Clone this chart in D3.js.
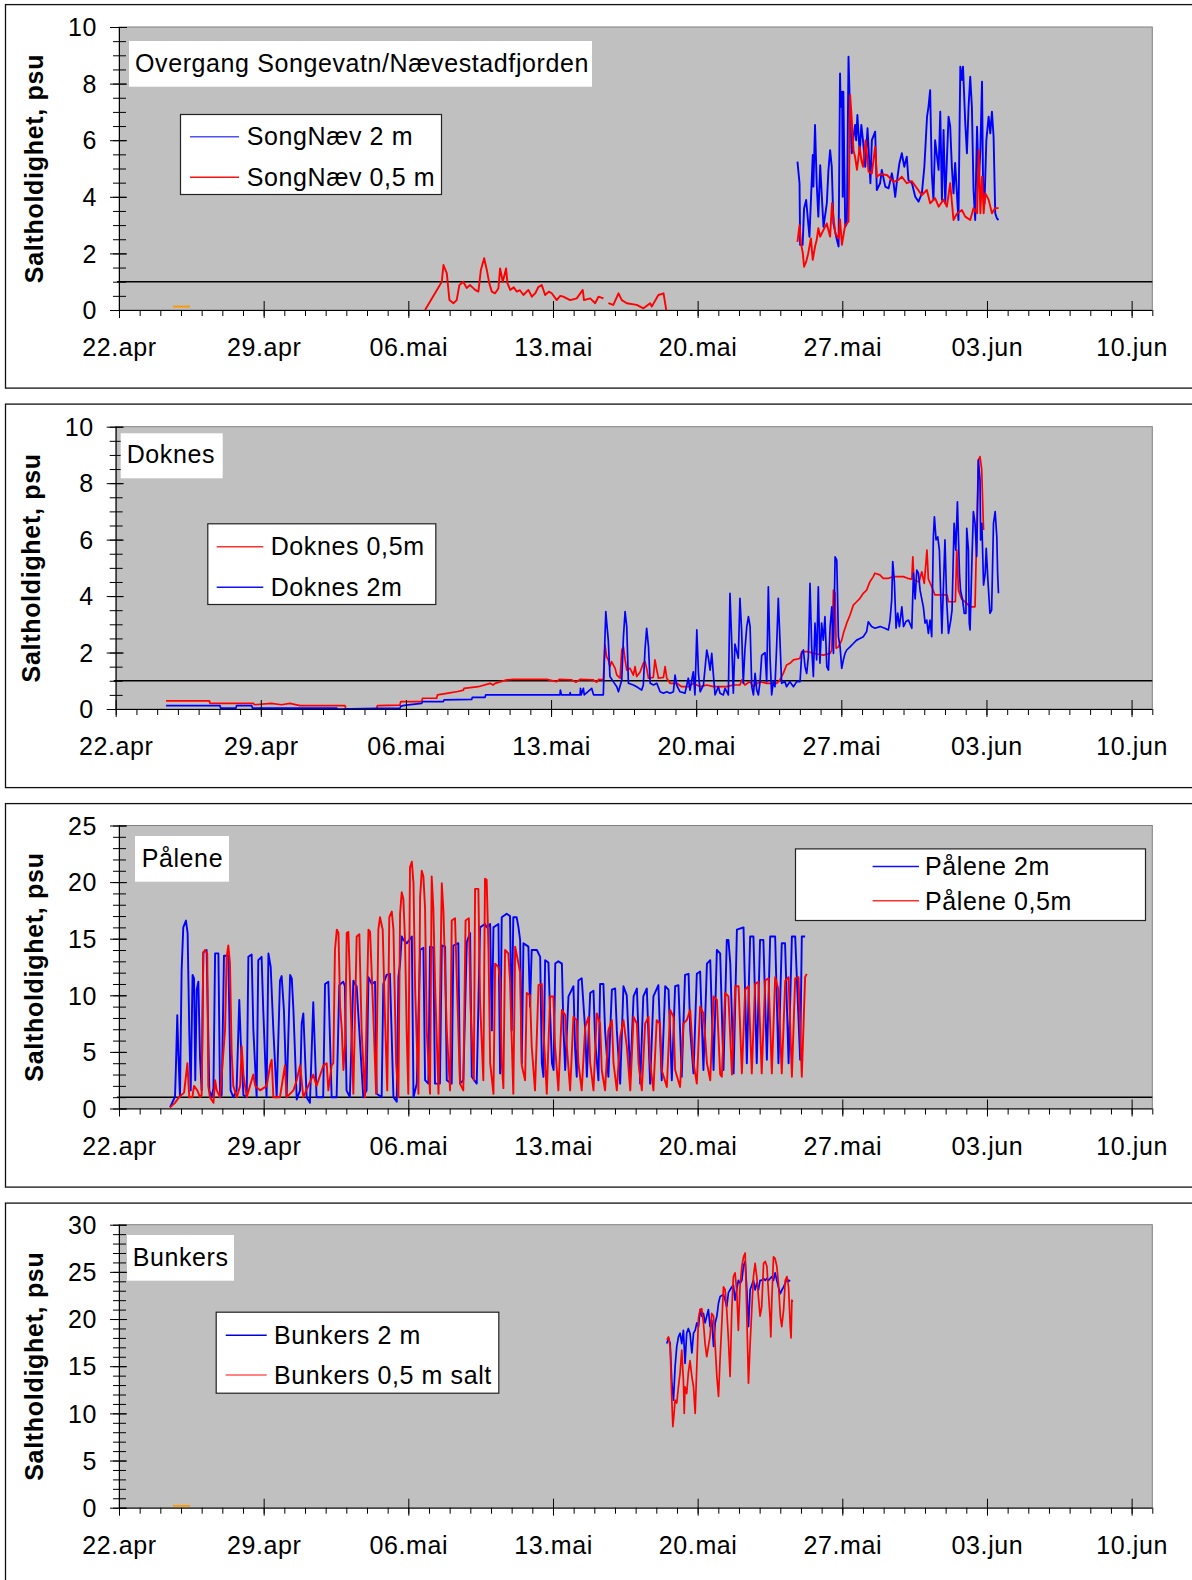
<!DOCTYPE html>
<html><head><meta charset="utf-8">
<script src="https://cdn.jsdelivr.net/npm/d3@7/dist/d3.min.js"></script>
<style>
body{margin:0;background:#fff}
svg text{font-family:"Liberation Sans",Arial,sans-serif;fill:#000}
</style>
</head><body>
<svg id="chart" width="1192" height="1580"></svg>
<script>
// ---------- data (day offset from 22.apr, salinity psu) ----------
const dateTicks = ["22.apr","29.apr","06.mai","13.mai","20.mai","27.mai","03.jun","10.jun"];
const dateTickDays = [0,7,14,21,28,35,42,49];

const panelTitles = ["Overgang Songevatn/Nævestadfjorden","Doknes","Pålene","Bunkers"];
const legendLabels = [["SongNæv 2 m","SongNæv 0,5 m"],["Doknes 0,5m","Doknes 2m"],["Pålene 2m","Pålene 0,5m"],["Bunkers 2 m","Bunkers 0,5 m salt"]];
const yMaxes = [10,10,25,30];
const yMajorSteps = [2,2,5,5];
const yMinorSteps = [0.5,0.5,1,1];
const thresholdValue = 1;

const songNaev2m = [[32.83,5.24],[32.93,4.48],[32.96,2.3],[33.08,2.3],[33.15,3.59],[33.25,3.89],[33.41,2.59],[33.57,5.48],[33.6,4.36],[33.68,6.54],[33.76,4.48],[33.84,3.3],[33.93,5.12],[34.01,4.0],[34.09,2.94],[34.25,3.77],[34.33,4.95],[34.41,5.65],[34.49,5.06],[34.57,3.06],[34.74,2.47],[34.82,2.24],[34.89,8.36],[34.92,7.18],[34.99,7.71],[35.02,4.0],[35.05,7.71],[35.14,2.94],[35.22,3.06],[35.3,8.95],[35.38,6.83],[35.46,5.54],[35.54,6.12],[35.62,6.54],[35.67,6.0],[35.73,6.89],[35.84,5.54],[35.92,6.54],[36.0,6.0],[36.11,5.06],[36.22,6.42],[36.36,4.48],[36.43,6.0],[36.59,6.3],[36.67,4.24],[36.83,4.48],[36.91,4.95],[37.08,4.36],[37.24,4.3],[37.4,4.83],[37.48,4.48],[37.56,4.0],[37.64,4.53],[37.76,5.18],[37.88,5.54],[38.0,5.06],[38.12,5.42],[38.2,4.59],[38.37,4.48],[38.53,4.0],[38.69,3.83],[38.85,4.12],[38.97,5.06],[39.1,6.83],[39.17,7.18],[39.25,7.77],[39.33,4.83],[39.41,3.89],[39.49,6.0],[39.66,4.95],[39.74,7.01],[39.82,3.89],[39.9,6.36],[39.98,3.77],[40.14,6.83],[40.22,6.5],[40.3,5.06],[40.38,4.12],[40.46,5.2],[40.62,3.18],[40.71,8.6],[40.79,8.13],[40.84,8.6],[40.95,6.6],[41.03,5.54],[41.11,7.18],[41.19,8.24],[41.27,7.18],[41.35,4.24],[41.43,3.18],[41.52,6.48],[41.6,4.48],[41.68,5.65],[41.76,8.07],[41.81,4.48],[41.88,3.77],[41.97,6.0],[42.08,6.83],[42.16,6.24],[42.24,7.01],[42.32,6.12],[42.4,3.42],[42.48,3.24],[42.56,3.18]];
const songNaev05m = [[14.81,0],[15.62,1.0],[15.7,1.59],[15.86,1.3],[15.99,0.35],[16.18,0.24],[16.34,0.35],[16.47,0.88],[16.66,1.0],[16.82,0.78],[16.99,0.88],[17.23,0.71],[17.39,0.65],[17.51,1.41],[17.67,1.83],[17.8,1.41],[17.92,0.94],[18.04,0.65],[18.2,0.59],[18.36,0.77],[18.44,1.47],[18.57,1.0],[18.73,1.47],[18.8,0.94],[18.93,0.71],[19.1,0.8],[19.25,0.65],[19.4,0.7],[19.57,0.53],[19.81,0.71],[19.98,0.47],[20.15,0.6],[20.3,0.82],[20.46,0.88],[20.62,0.53],[20.8,0.65],[20.94,0.59],[21.18,0.35],[21.35,0.5],[21.5,0.47],[21.83,0.35],[22.15,0.41],[22.44,0.71],[22.5,0.35],[22.8,0.41],[23.04,0.24],[23.2,0.47],[23.44,0.41],null,[23.68,0.24],[23.92,0.18],[24.17,0.59],[24.33,0.35],[24.57,0.24],[25.05,0.18],[25.38,0.06],[25.7,0.24],[25.78,0.12],[26.1,0.53],[26.35,0.59],[26.48,0],null,
 [32.83,2.41],[32.93,3.0],[33.0,2.36],[33.09,2.0],[33.15,1.53],[33.25,1.7],[33.35,2.0],[33.48,2.53],[33.57,1.77],[33.68,2.24],[33.76,2.47],[33.84,2.89],[33.93,2.59],[34.09,2.83],[34.25,3.06],[34.41,2.59],[34.5,3.77],[34.66,2.71],[34.82,2.53],[34.89,3.2],[34.98,2.3],[35.14,3.0],[35.3,3.12],[35.38,7.6],[35.46,6.71],[35.54,5.65],[35.62,5.4],[35.71,4.95],[35.84,5.77],[35.92,5.3],[36.0,5.06],[36.13,6.0],[36.27,4.89],[36.43,4.83],[36.59,5.77],[36.67,4.71],[36.83,4.8],[37.16,4.77],[37.48,4.53],[37.72,4.6],[37.88,4.71],[38.12,4.48],[38.37,4.55],[38.61,4.3],[38.85,4.06],[39.09,4.24],[39.25,3.77],[39.49,3.95],[39.66,3.65],[39.9,3.9],[40.06,3.65],[40.22,4.48],[40.38,3.18],[40.54,3.4],[40.79,3.53],[40.95,3.3],[41.19,3.18],[41.35,3.6],[41.52,3.42],[41.6,5.65],[41.68,3.42],[41.76,4.71],[41.84,3.42],[41.92,4.12],[42.08,3.9],[42.24,3.42],[42.4,3.6],[42.56,3.6]];
const songNaevOther = [[2.61,0.12],[3.44,0.12]];

const doknes05m = [[2.43,0.29],[4.52,0.29],[4.55,0.2],[6.64,0.2],[6.7,0.15],[7.5,0.2],[8.0,0.15],[8.4,0.2],[8.89,0.12],[11.06,0.12],[11.1,0],[12.59,0],[12.62,0.12],[13.71,0.14],[13.75,0.26],[14.76,0.26],[14.8,0.38],[15.48,0.38],[15.52,0.5],[16.04,0.56],[16.5,0.62],[16.77,0.67],[16.8,0.73],[17.49,0.79],[18.06,0.91],[18.2,0.85],[18.3,0.91],[18.86,1.03],[19.18,1.05],[20.79,1.05],[21.27,0.97],[21.4,1.05],[22.0,1.03],[22.2,0.95],[22.4,1.05],[23.04,1.03],[23.2,0.95],[23.3,1.05],[23.52,1.03],[23.6,2.27],[23.68,1.85],[23.76,1.74],[23.84,1.5],[23.92,1.68],[24.09,1.44],[24.17,1.2],[24.33,1.09],[24.41,2.09],[24.49,2.2],[24.57,1.74],[24.65,1.38],[24.81,1.44],[24.97,1.2],[25.05,1.5],[25.13,1.15],[25.29,1.3],[25.45,1.62],[25.53,1.68],[25.61,1.44],[25.7,1.09],[25.93,1.12],[26.01,1.74],[26.1,1.38],[26.18,1.09],[26.42,1.12],[26.5,1.5],[26.58,1.09],[26.74,0.91],[27.06,0.91],[27.3,0.79],[27.62,0.79],[27.86,0.91],[28.19,0.79],[28.51,0.85],[28.83,0.79],[29.47,0.79],[29.79,0.85],[30.11,0.85],[30.2,1.03],[30.35,0.85],[30.59,0.97],[30.75,0.79],[31.07,0.97],[31.4,0.91],[31.88,0.91],[32.04,1.03],[32.2,1.26],[32.36,1.56],[32.52,1.62],[32.69,1.74],[33.0,1.79],[33.09,2.03],[33.41,2.03],[33.65,1.97],[34.13,1.91],[34.46,1.97],[34.54,2.09],[34.62,4.21],[34.7,4.1],[34.75,2.15],[34.86,2.2],[35.02,2.44],[35.1,2.68],[35.26,3.04],[35.42,3.33],[35.58,3.68],[35.74,3.8],[35.9,3.92],[36.06,4.1],[36.22,4.21],[36.38,4.51],[36.54,4.69],[36.62,4.81],[36.86,4.75],[37.02,4.63],[37.27,4.63],[37.51,4.69],[37.99,4.69],[38.2,4.63],[38.4,4.6],[38.45,5.39],[38.5,4.57],[38.75,4.5],[38.88,4.86],[39.0,4.45],[39.13,5.63],[39.2,4.6],[39.36,4.33],[39.52,4.04],[40.1,4.04],[40.17,3.8],[40.5,3.8],[40.57,5.63],[40.65,4.21],[40.8,3.9],[41.05,3.74],[41.21,3.62],[41.45,3.62],[41.53,6.22],[41.61,8.82],[41.69,8.94],[41.77,8.5],[41.86,6.34]];
const doknes2m = [[2.43,0.12],[5.03,0.12],[5.06,0.03],[5.8,0.03],[5.83,0.12],[6.56,0.12],[6.6,0.03],[10.66,0.03],[10.7,0],[12.59,0.02],[13.71,0.02],[13.75,0.1],[14.0,0.14],[14.76,0.2],[14.8,0.26],[15.8,0.26],[15.84,0.32],[17.17,0.34],[17.2,0.41],[17.81,0.41],[17.85,0.5],[21.43,0.5],[21.45,0.67],[21.5,0.5],[21.9,0.5],[21.92,0.58],[21.95,0.5],[22.4,0.5],[22.42,0.73],[22.45,0.5],[22.56,0.73],[22.6,0.5],[22.96,0.73],[23.05,0.5],[23.52,0.5],[23.6,2.56],[23.64,3.45],[23.68,3.09],[23.76,2.44],[23.84,1.15],[24.0,0.97],[24.17,0.79],[24.25,0.61],[24.41,1.03],[24.49,2.56],[24.57,3.45],[24.65,2.92],[24.73,0.91],[24.97,0.85],[25.13,0.79],[25.37,0.67],[25.45,0.85],[25.53,2.09],[25.61,2.86],[25.7,2.2],[25.78,0.91],[25.94,0.85],[26.1,0.91],[26.26,0.61],[26.42,0.56],[26.58,0.61],[26.74,0.56],[26.9,0.61],[26.98,1.2],[27.06,0.85],[27.22,0.61],[27.46,0.56],[27.62,1.09],[27.7,0.67],[27.86,1.32],[27.94,0.5],[28.03,2.8],[28.11,1.26],[28.19,0.61],[28.35,0.85],[28.51,2.09],[28.59,1.79],[28.67,1.38],[28.75,1.97],[28.83,1.2],[28.91,0.5],[29.07,0.79],[29.15,0.56],[29.31,0.5],[29.39,0.73],[29.55,0.5],[29.63,4.1],[29.71,2.44],[29.79,0.56],[29.87,2.3],[30.03,1.8],[30.11,3.92],[30.19,2.8],[30.27,0.91],[30.35,2.09],[30.44,2.92],[30.52,3.27],[30.6,2.92],[30.68,0.79],[30.76,0.5],[30.84,1.26],[30.92,0.67],[31.0,0.5],[31.08,0.97],[31.16,1.9],[31.32,2.0],[31.4,0.97],[31.48,4.33],[31.56,1.85],[31.64,0.5],[31.72,0.97],[31.8,0.79],[31.88,2.21],[31.96,3.92],[32.04,2.44],[32.12,0.91],[32.28,0.97],[32.36,0.79],[32.52,0.97],[32.69,0.79],[32.85,0.97],[33.01,0.97],[33.09,1.97],[33.17,2.09],[33.25,1.5],[33.33,1.26],[33.41,1.85],[33.49,4.45],[33.57,2.2],[33.65,1.15],[33.73,3.04],[33.81,1.74],[33.89,4.33],[33.97,1.62],[34.05,3.04],[34.13,2.44],[34.21,3.27],[34.3,1.5],[34.38,1.38],[34.46,2.92],[34.54,3.62],[34.62,1.97],[34.7,5.39],[34.78,5.27],[34.86,2.56],[34.94,2.2],[35.02,1.44],[35.1,1.74],[35.18,1.97],[35.26,2.09],[35.42,2.2],[35.58,2.32],[35.74,2.44],[35.9,2.5],[36.06,2.56],[36.22,2.74],[36.3,3.09],[36.46,2.92],[36.62,2.86],[36.87,2.92],[37.1,2.86],[37.27,2.8],[37.35,3.15],[37.43,3.86],[37.48,5.22],[37.56,4.5],[37.64,2.86],[37.72,3.4],[37.8,2.92],[37.92,3.62],[38.0,2.92],[38.12,3.1],[38.24,3.15],[38.4,2.86],[38.48,4.81],[38.56,3.9],[38.64,4.92],[38.72,4.81],[38.8,4.2],[38.88,3.9],[38.96,3.6],[39.04,3.04],[39.12,3.15],[39.2,2.68],[39.28,3.15],[39.36,2.56],[39.44,6.1],[39.49,6.81],[39.57,5.99],[39.65,6.1],[39.73,5.63],[39.85,2.68],[40.0,5.99],[40.08,3.86],[40.17,2.68],[40.28,3.15],[40.34,3.5],[40.44,6.58],[40.52,5.63],[40.6,7.34],[40.7,4.8],[40.75,4.2],[40.85,3.86],[40.93,3.39],[41.01,3.39],[41.05,6.4],[41.13,5.63],[41.17,3.04],[41.21,2.8],[41.29,5.0],[41.37,6.99],[41.45,6.58],[41.53,5.4],[41.61,8.82],[41.69,8.11],[41.72,5.99],[41.78,6.58],[41.86,4.39],[41.94,4.8],[41.99,5.69],[42.07,4.57],[42.17,3.39],[42.25,3.5],[42.34,6.58],[42.42,6.99],[42.5,6.1],[42.54,4.8],[42.58,4.1]];

const palene2m = [[2.47,0.1],[2.71,1.04],[2.75,3.4],[2.82,8.25],[2.87,5.0],[2.95,1.0],[3.03,12.2],[3.11,16.0],[3.24,16.6],[3.32,15.5],[3.4,6.9],[3.47,1.6],[3.56,11.8],[3.63,11.5],[3.69,2.5],[3.76,10.5],[3.84,11.2],[3.92,4.5],[4.0,1.6],[4.08,13.8],[4.24,14.0],[4.37,1.6],[4.48,1.0],[4.57,1.8],[4.65,13.7],[4.81,13.7],[4.89,1.0],[4.97,1.2],[5.08,13.5],[5.29,13.5],[5.4,1.6],[5.53,1.0],[5.69,1.6],[5.82,9.6],[5.89,6.0],[6.02,1.2],[6.18,1.0],[6.26,13.4],[6.42,13.6],[6.5,7.0],[6.66,1.0],[6.74,13.1],[6.9,13.4],[6.98,8.7],[7.14,1.0],[7.23,13.7],[7.34,12.5],[7.47,6.9],[7.63,1.0],[7.79,11.3],[7.87,11.7],[7.98,8.7],[8.11,1.0],[8.28,11.8],[8.36,11.5],[8.44,8.7],[8.6,0.8],[8.76,1.6],[8.84,7.5],[8.92,8.4],[9.08,1.0],[9.24,0.5],[9.4,9.4],[9.56,1.0],[9.88,1.0],[9.97,11.0],[10.13,11.2],[10.29,1.0],[10.53,1.0],[10.66,10.9],[10.85,11.2],[10.93,10.8],[11.01,1.6],[11.17,1.0],[11.34,11.3],[11.42,11.0],[11.5,10.8],[11.82,1.0],[11.98,1.6],[12.07,11.6],[12.23,11.0],[12.39,11.2],[12.47,1.3],[12.71,1.0],[12.79,11.0],[12.95,11.8],[13.11,11.9],[13.28,1.0],[13.44,0.6],[13.52,11.6],[13.6,12.8],[13.68,15.2],[13.76,14.9],[13.93,14.6],[14.17,15.2],[14.25,1.0],[14.41,2.2],[14.57,14.0],[14.73,14.2],[14.81,2.5],[14.97,2.2],[15.05,14.3],[15.21,14.2],[15.29,2.2],[15.53,2.2],[15.62,14.4],[15.78,14.3],[15.86,2.5],[16.1,2.2],[16.18,14.4],[16.42,14.6],[16.5,2.2],[16.66,2.5],[16.83,14.7],[16.99,15.5],[17.07,2.8],[17.31,2.2],[17.47,16.0],[17.71,16.3],[17.79,16.0],[17.96,16.3],[18.04,6.9],[18.12,16.0],[18.2,16.1],[18.36,16.3],[18.44,3.1],[18.52,16.9],[18.76,17.2],[18.92,17.0],[19.0,6.9],[19.08,16.9],[19.24,16.9],[19.33,16.0],[19.41,14.9],[19.49,4.0],[19.57,14.6],[19.81,14.3],[19.89,9.0],[19.97,14.0],[20.22,14.0],[20.38,13.4],[20.46,4.0],[20.54,2.8],[20.62,13.1],[20.78,12.9],[20.86,8.5],[20.95,4.0],[21.03,3.4],[21.11,12.8],[21.26,13.0],[21.43,12.8],[21.51,6.9],[21.59,3.4],[21.75,9.9],[21.91,10.5],[21.99,10.8],[22.07,5.3],[22.15,2.8],[22.23,11.3],[22.39,11.5],[22.56,6.9],[22.64,2.8],[22.8,10.2],[22.96,10.4],[23.04,6.0],[23.2,2.5],[23.28,11.0],[23.44,11.0],[23.52,6.9],[23.68,2.8],[23.85,10.5],[24.01,10.6],[24.09,6.9],[24.25,2.2],[24.41,10.8],[24.57,10.0],[24.74,2.8],[24.9,9.9],[25.06,10.6],[25.22,2.2],[25.37,9.9],[25.54,10.6],[25.7,2.2],[25.86,9.9],[26.1,10.9],[26.26,2.5],[26.43,10.8],[26.59,10.5],[26.75,2.5],[26.91,10.8],[27.07,10.9],[27.23,2.8],[27.39,11.8],[27.56,11.9],[27.64,6.9],[27.8,3.1],[27.96,11.9],[28.12,12.1],[28.28,3.4],[28.45,12.8],[28.61,13.1],[28.77,3.4],[28.93,14.0],[29.09,13.7],[29.25,3.4],[29.41,14.9],[29.49,14.9],[29.58,12.8],[29.74,3.1],[29.9,15.8],[30.22,16.0],[30.38,4.0],[30.54,15.2],[30.7,15.2],[30.86,4.0],[31.02,14.9],[31.18,14.9],[31.35,4.3],[31.51,15.2],[31.75,15.2],[31.91,4.0],[32.07,14.6],[32.23,14.6],[32.4,4.0],[32.56,15.2],[32.72,15.2],[32.96,4.3],[33.04,15.2],[33.2,15.2]];
const palene05m = [[2.47,0.1],[2.71,0.5],[2.9,1.0],[3.15,1.4],[3.31,4.0],[3.4,1.0],[3.55,1.0],[3.63,2.0],[3.79,1.6],[3.92,1.0],[4.0,1.2],[4.08,13.7],[4.16,14.0],[4.27,13.7],[4.32,2.0],[4.4,1.0],[4.57,0.5],[4.65,2.5],[4.73,1.6],[4.89,1.0],[5.13,6.9],[5.21,13.4],[5.29,14.4],[5.37,12.8],[5.45,5.0],[5.53,2.0],[5.7,1.0],[5.86,2.0],[5.94,5.5],[6.02,3.0],[6.18,1.0],[6.34,2.0],[6.5,3.0],[6.59,2.0],[6.83,1.6],[7.15,2.0],[7.31,3.8],[7.39,4.3],[7.47,1.0],[7.79,1.0],[8.03,3.8],[8.11,1.0],[8.44,1.6],[8.6,2.5],[8.76,3.8],[8.92,1.0],[9.4,3.0],[9.56,2.0],[9.89,3.8],[10.05,4.0],[10.13,1.6],[10.29,3.8],[10.37,4.0],[10.45,14.0],[10.54,15.8],[10.62,15.5],[10.7,9.0],[10.78,7.0],[10.86,3.4],[10.94,5.7],[11.02,15.5],[11.1,15.6],[11.18,11.0],[11.34,1.3],[11.5,15.2],[11.63,15.4],[11.74,6.9],[11.9,1.0],[12.07,15.8],[12.15,15.6],[12.31,8.1],[12.44,1.3],[12.55,15.8],[12.63,16.9],[12.76,15.8],[12.87,8.1],[12.98,1.6],[13.08,16.9],[13.2,17.4],[13.28,15.8],[13.41,4.0],[13.52,1.0],[13.6,17.2],[13.68,19.1],[13.76,18.5],[13.84,14.9],[13.92,6.9],[14.0,1.3],[14.08,21.3],[14.17,21.8],[14.25,19.9],[14.33,10.5],[14.49,1.3],[14.57,18.7],[14.65,21.0],[14.73,20.5],[14.81,17.7],[14.89,6.9],[15.05,1.3],[15.13,20.5],[15.21,17.7],[15.3,10.5],[15.46,1.3],[15.62,19.9],[15.7,17.4],[15.86,6.9],[16.02,1.6],[16.1,16.6],[16.26,16.8],[16.34,11.8],[16.5,2.2],[16.66,1.6],[16.77,16.6],[16.93,16.8],[17.01,9.0],[17.17,2.5],[17.23,19.4],[17.39,19.4],[17.47,9.5],[17.63,2.5],[17.71,20.3],[17.79,20.2],[17.88,14.0],[17.96,4.0],[18.12,1.3],[18.2,12.8],[18.36,12.5],[18.44,11.3],[18.52,4.0],[18.6,1.8],[18.68,14.0],[18.84,13.7],[18.92,11.3],[19.08,1.3],[19.17,14.3],[19.33,12.8],[19.41,12.0],[19.49,3.8],[19.65,2.5],[19.73,10.2],[19.89,10.0],[19.97,5.5],[20.13,1.6],[20.3,10.9],[20.46,11.0],[20.54,6.9],[20.7,1.3],[20.86,9.9],[21.02,9.9],[21.1,5.5],[21.26,1.6],[21.43,8.7],[21.59,8.25],[21.67,5.5],[21.83,1.6],[21.99,8.1],[22.15,7.8],[22.23,4.0],[22.39,1.6],[22.56,7.2],[22.72,8.1],[22.8,4.0],[22.96,1.6],[23.12,8.4],[23.28,7.5],[23.36,3.4],[23.52,1.6],[23.68,6.9],[23.85,7.8],[23.93,4.0],[24.09,1.6],[24.25,6.3],[24.41,7.8],[24.57,5.5],[24.74,1.6],[24.9,8.1],[25.06,7.5],[25.14,4.0],[25.3,1.6],[25.46,7.5],[25.62,8.1],[25.7,4.0],[25.86,1.6],[26.02,7.8],[26.18,7.5],[26.26,3.4],[26.51,1.9],[26.67,8.7],[26.83,8.1],[26.91,3.4],[27.15,1.9],[27.31,7.5],[27.47,7.8],[27.64,8.7],[27.8,4.0],[27.96,2.2],[28.12,9.0],[28.28,8.4],[28.45,4.0],[28.61,2.5],[28.77,9.9],[28.93,9.6],[29.09,3.0],[29.17,2.8],[29.33,10.2],[29.49,9.9],[29.66,3.0],[29.82,10.8],[29.98,10.8],[30.14,3.1],[30.3,10.5],[30.46,10.8],[30.62,3.1],[30.78,11.0],[30.94,11.2],[31.1,3.1],[31.27,11.3],[31.43,11.5],[31.59,3.1],[31.75,11.6],[31.91,10.5],[32.07,3.1],[32.24,11.3],[32.4,11.6],[32.56,2.8],[32.72,11.5],[32.88,11.6],[33.04,2.8],[33.2,11.6],[33.28,11.9]];

const bunkers2m = [[26.51,17.4],[26.59,18.0],[26.67,17.4],[26.75,13.2],[26.83,11.4],[26.91,15.0],[26.99,17.1],[27.07,18.1],[27.15,18.5],[27.23,17.4],[27.31,18.8],[27.39,15.3],[27.47,18.5],[27.55,19.0],[27.63,18.5],[27.72,16.4],[27.8,18.5],[27.88,18.8],[27.96,19.6],[28.04,19.2],[28.12,21.0],[28.2,20.3],[28.28,20.6],[28.36,19.6],[28.44,20.3],[28.52,21.0],[28.6,19.2],[28.68,19.9],[28.77,17.1],[28.85,19.6],[28.93,20.3],[29.01,21.7],[29.09,22.4],[29.25,22.6],[29.33,22.0],[29.41,21.3],[29.49,22.8],[29.57,23.1],[29.65,23.4],[29.73,23.6],[29.81,22.0],[29.89,23.1],[29.97,24.1],[30.05,23.8],[30.14,24.1],[30.22,25.7],[30.3,26.1],[30.38,23.1],[30.46,19.2],[30.54,23.1],[30.62,23.6],[30.7,24.1],[30.78,23.1],[30.86,23.8],[30.94,23.1],[31.02,24.1],[31.1,24.1],[31.19,24.3],[31.27,24.1],[31.35,24.3],[31.43,24.1],[31.51,24.3],[31.59,24.5],[31.67,24.1],[31.75,24.9],[31.83,24.1],[31.91,23.4],[32.0,22.7],[32.08,23.1],[32.16,23.4],[32.24,23.8],[32.32,24.3],[32.4,24.0],[32.48,24.1]];
const bunkers05m = [[26.51,17.8],[26.59,18.1],[26.67,17.0],[26.75,11.4],[26.8,8.6],[26.86,10.0],[26.91,11.4],[26.99,11.1],[27.07,12.8],[27.15,14.3],[27.23,16.7],[27.31,13.5],[27.35,10.0],[27.39,12.8],[27.47,12.1],[27.55,14.3],[27.63,15.6],[27.72,13.9],[27.8,12.8],[27.88,10.0],[27.96,15.0],[28.04,20.1],[28.12,21.0],[28.2,21.1],[28.28,19.6],[28.36,17.4],[28.44,16.0],[28.52,17.1],[28.6,18.2],[28.68,20.6],[28.77,20.3],[28.85,17.1],[28.93,13.9],[29.01,11.8],[29.09,16.0],[29.17,19.6],[29.25,23.4],[29.33,23.1],[29.41,20.9],[29.49,17.8],[29.57,13.9],[29.65,20.9],[29.73,24.5],[29.81,24.9],[29.89,23.1],[29.97,18.8],[30.05,23.4],[30.14,25.6],[30.22,26.6],[30.3,27.0],[30.38,20.3],[30.46,13.2],[30.54,17.4],[30.62,21.0],[30.7,24.5],[30.78,25.9],[30.86,24.5],[30.94,22.4],[31.02,20.3],[31.1,21.3],[31.19,25.9],[31.27,26.1],[31.35,25.6],[31.43,22.7],[31.51,19.9],[31.54,18.1],[31.59,22.0],[31.67,26.6],[31.75,26.4],[31.83,25.6],[31.91,23.8],[32.0,20.3],[32.07,19.2],[32.16,21.0],[32.24,24.1],[32.32,24.5],[32.4,23.4],[32.48,19.2],[32.52,18.0],[32.56,22.0],[32.6,21.8]];
const bunkersOther = [[2.61,0.2],[3.44,0.2]];

// ---------- layout ----------
const BLUE = "#0000ff", RED = "#ff0000", ORANGE = "#ff9900";
const panels = [
  {top:4.6, left:119, plotTop:27, plotBottom:310, threshold:true, lw:1.9,
   titleBox:[129,41,463,45.7], titleX:135, titleY:71.7,
   legendBox:[180,114,261,80], legendLineX:[190,239], legendTextX:246.7, legendY:[136.7,177.3],
   legendColors:["#5050ff","#ff1010"],
   series:[{data:songNaevOther,color:ORANGE},{data:songNaev2m,color:BLUE},{data:songNaev05m,color:RED}]},
  {top:404.1, left:115.7, plotTop:426.7, plotBottom:709, threshold:true, lw:1.7,
   titleBox:[120.7,433.3,102,45], titleX:126.7, titleY:463.3,
   legendBox:[207.3,523.3,228,80.7], legendLineX:[216.7,263.3], legendTextX:270.7, legendY:[546.7,587.3],
   legendColors:["#ff3030","#1010ff"],
   series:[{data:doknes05m,color:RED},{data:doknes2m,color:BLUE}]},
  {top:803.6, left:119, plotTop:825.5, plotBottom:1108.5, threshold:true, lw:1.9,
   titleBox:[135,836,94,45.7], titleX:141.7, titleY:866.7,
   legendBox:[795,848.4,350,71.6], legendLineX:[872.6,919], legendTextX:925, legendY:[866.5,900.8],
   legendColors:["#1010ff","#ff3030"],
   series:[{data:palene2m,color:BLUE},{data:palene05m,color:RED}]},
  {top:1203.1, left:119, plotTop:1224.7, plotBottom:1507.7, threshold:false, lw:1.7,
   titleBox:[127,1235,107,45.7], titleX:132.7, titleY:1266,
   legendBox:[215.7,1311.7,282.6,81], legendLineX:[225.7,266.7], legendTextX:274, legendY:[1335.3,1375],
   legendColors:["#0000dd","#ff5a5a"],
   series:[{data:bunkersOther,color:ORANGE},{data:bunkers2m,color:BLUE},{data:bunkers05m,color:RED}]}
];
const PLOT_RIGHT = 1152.3;
const FONT = 25;

const svg = d3.select("#chart");

panels.forEach((p, i) => {
  const g = svg.append("g");
  // outer frame
  g.append("rect").attr("x",5.5).attr("y",p.top).attr("width",1220).attr("height",383.5)
    .attr("fill","#fff").attr("stroke","#111").attr("stroke-width",1.3);

  const x = d3.scaleLinear().domain([0,50]).range([p.left, PLOT_RIGHT]);
  const y = d3.scaleLinear().domain([0,yMaxes[i]]).range([p.plotBottom, p.plotTop]);

  // plot area
  g.append("rect").attr("x",p.left).attr("y",p.plotTop)
    .attr("width",PLOT_RIGHT-p.left).attr("height",p.plotBottom-p.plotTop)
    .attr("fill","#c0c0c0").attr("stroke","#808080").attr("stroke-width",1);

  // threshold
  if (p.threshold) {
    g.append("line").attr("x1",p.left-2).attr("x2",PLOT_RIGHT)
      .attr("y1",y(thresholdValue)).attr("y2",y(thresholdValue))
      .attr("stroke","#000").attr("stroke-width",1.6);
  }

  // series
  const line = d3.line().defined(d => d !== null).x(d => x(d[0])).y(d => y(d[1]));
  const dg = g.append("g");
  p.series.forEach(s => {
    dg.append("path").attr("d", line(s.data)).attr("fill","none")
      .attr("stroke", s.color).attr("stroke-width",p.lw).attr("stroke-linejoin","round");
  });

  // y axis: minor ticks
  const yMinor = d3.range(0, yMaxes[i] + 1e-9, yMinorSteps[i]);
  const ya1 = g.append("g").attr("transform",`translate(${p.left},0)`)
    .call(d3.axisLeft(y).tickValues(yMinor).tickFormat("").tickSizeOuter(0).tickSize(6));
  ya1.selectAll(".tick line").attr("x1",-6).attr("x2",7).attr("stroke","#000");
  ya1.select(".domain").remove();
  // y axis: major ticks & labels
  const yMajor = d3.range(0, yMaxes[i] + 1e-9, yMajorSteps[i]);
  const ya2 = g.append("g").attr("transform",`translate(${p.left},0)`)
    .call(d3.axisLeft(y).tickValues(yMajor).tickFormat(d3.format("d")).tickSizeOuter(0).tickSize(9).tickPadding(13));
  ya2.selectAll(".tick line").attr("x1",-9).attr("x2",8).attr("stroke","#000");
  ya2.select(".domain").attr("stroke","#000").attr("d",`M0.5,${p.plotBottom}V${p.plotTop}`);
  ya2.selectAll(".tick text").attr("font-size",FONT).attr("font-family","Liberation Sans, Arial, sans-serif")
    .attr("letter-spacing","0.6px").attr("dy","0.35em").attr("fill","#000");
  ya2.attr("font-size",null).attr("font-family",null);

  // x axis: minor ticks (daily)
  const xa1 = g.append("g").attr("transform",`translate(0,${p.plotBottom})`)
    .call(d3.axisBottom(x).tickValues(d3.range(0,51,1)).tickFormat("").tickSizeOuter(0).tickSize(6));
  xa1.selectAll(".tick line").attr("stroke","#000");
  xa1.select(".domain").remove();
  // x axis: major ticks with labels
  const xa2 = g.append("g").attr("transform",`translate(0,${p.plotBottom})`)
    .call(d3.axisBottom(x).tickValues(dateTickDays).tickFormat((d,k) => dateTicks[k])
      .tickSizeOuter(0).tickSize(8).tickPadding(20.5));
  xa2.selectAll(".tick line").attr("y1",-9).attr("y2",8).attr("stroke","#000");
  xa2.select(".domain").attr("stroke","#000").attr("d",`M${p.left},0.5H${PLOT_RIGHT}`);
  xa2.selectAll(".tick text").attr("font-size",FONT).attr("font-family","Liberation Sans, Arial, sans-serif")
    .attr("letter-spacing","0.6px").attr("fill","#000");
  xa2.attr("font-size",null).attr("font-family",null);

  // y title
  g.append("text").attr("transform",`translate(${p.left-76},${(p.plotTop+p.plotBottom)/2}) rotate(-90)`)
    .attr("text-anchor","middle").attr("font-weight","bold").attr("font-size",FONT)
    .attr("letter-spacing","0.7px").text("Saltholdighet, psu");

  // title box
  g.append("rect").attr("x",p.titleBox[0]).attr("y",p.titleBox[1]).attr("width",p.titleBox[2]).attr("height",p.titleBox[3]).attr("fill","#fff");
  g.append("text").attr("x",p.titleX).attr("y",p.titleY).attr("font-size",FONT).attr("letter-spacing","0.6px").text(panelTitles[i]);

  // legend
  g.append("rect").attr("x",p.legendBox[0]+0.5).attr("y",p.legendBox[1]+0.5).attr("width",p.legendBox[2]).attr("height",p.legendBox[3])
    .attr("fill","#fff").attr("stroke","#222").attr("stroke-width",1.2);
  legendLabels[i].forEach((lab, k) => {
    g.append("line").attr("x1",p.legendLineX[0]).attr("x2",p.legendLineX[1]).attr("y1",p.legendY[k]).attr("y2",p.legendY[k])
      .attr("stroke",p.legendColors[k]).attr("stroke-width",1.4);
    g.append("text").attr("x",p.legendTextX).attr("y",p.legendY[k]).attr("dy","0.35em")
      .attr("font-size",FONT).attr("letter-spacing","0.6px").text(lab);
  });
});
</script>
</body></html>
